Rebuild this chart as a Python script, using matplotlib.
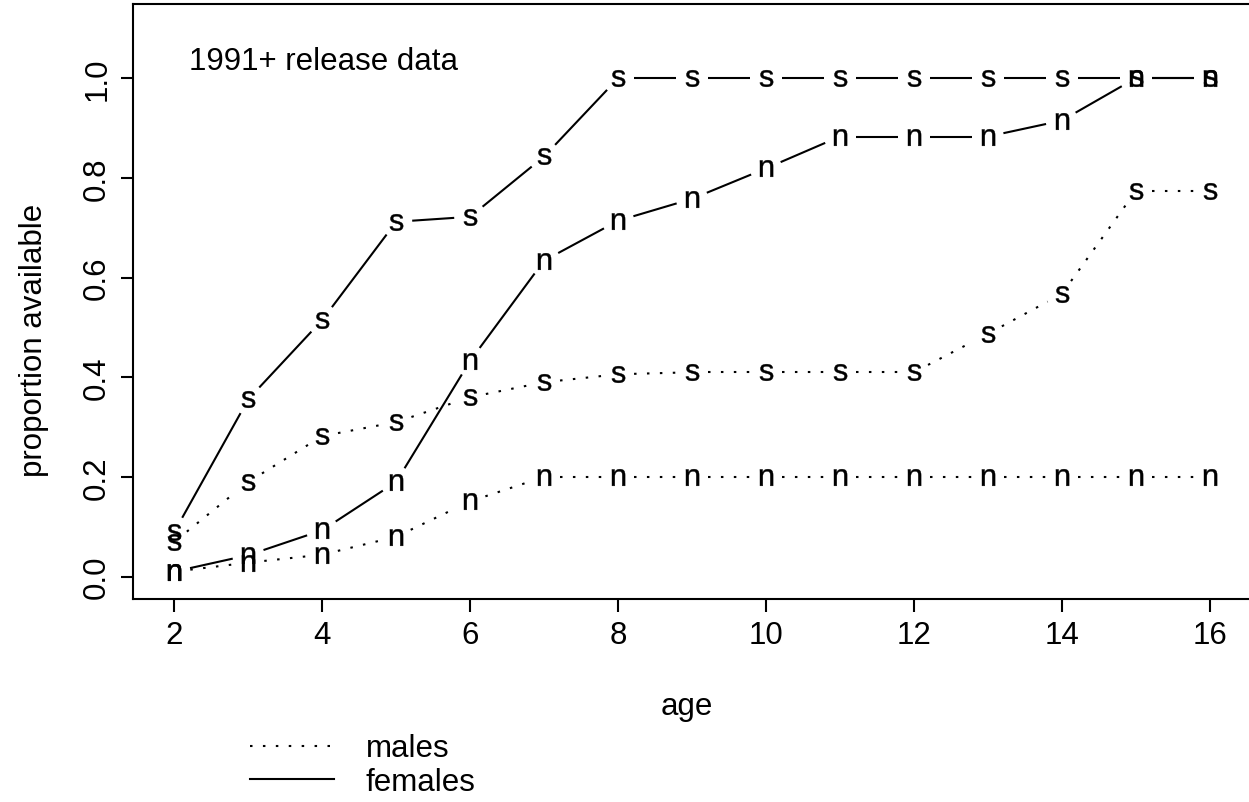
import numpy as np
import matplotlib
matplotlib.use('Agg')
import matplotlib.pyplot as plt
from matplotlib.lines import Line2D

plt.rcParams['font.family'] = ['Liberation Sans', 'DejaVu Sans']
plt.rcParams['mathtext.fontset'] = 'custom'
plt.rcParams['mathtext.rm'] = 'Liberation Sans'

# data
ages = [2, 3, 4, 5, 6, 7, 8, 9, 10, 11, 12, 13, 14, 15, 16]
females_s = [0.09, 0.356, 0.515, 0.712, 0.722, 0.843, 1.0, 1.0, 1.0, 1.0, 1.0, 1.0, 1.0, 1.0, 1.0]
females_n = [0.01, 0.043, 0.093, 0.19, 0.433, 0.634, 0.714, 0.758, 0.819, 0.883, 0.883, 0.883, 0.915, 1.0, 1.0]
males_s = [0.07, 0.19, 0.282, 0.31, 0.36, 0.39, 0.406, 0.41, 0.41, 0.41, 0.41, 0.487, 0.567, 0.773, 0.773]
males_n = [0.01, 0.028, 0.044, 0.08, 0.151, 0.2, 0.2, 0.2, 0.2, 0.2, 0.2, 0.2, 0.2, 0.2, 0.2]

FS = 22.5
DOTTED = (0, (1.2, 5))

fig = plt.figure(figsize=(12.49, 8.03), dpi=100)
ax = fig.add_axes([133 / 1249, 203 / 803, 1118 / 1249, 595 / 803])
ax.set_xlim(1.44, 16.56)
ax.set_ylim(-0.045, 1.149)


def gapped(x, y, ls, gap=16):
    # type="b" style: line segments stopping short of each point
    pts = ax.transData.transform(np.column_stack([x, y]))
    inv = ax.transData.inverted()
    for p0, p1 in zip(pts[:-1], pts[1:]):
        d = p1 - p0
        length = np.hypot(*d)
        if length <= 2 * gap:
            continue
        u = d / length
        a, b = inv.transform([p0 + u * gap, p1 - u * gap])
        ax.plot([a[0], b[0]], [a[1], b[1]], color='black', lw=1.5,
                linestyle=ls, solid_capstyle='butt')


for vals, letter, ls in [(females_s, 's', '-'), (females_n, 'n', '-'),
                         (males_s, 's', DOTTED), (males_n, 'n', DOTTED)]:
    gapped(ages, vals, ls)
    ax.plot(ages, vals, linestyle='none', marker=r'$\mathregular{%s}$' % letter,
            markersize=12, color='black', markeredgewidth=0.3)

ax.text(2.2, 1.035, '1991+ release data', fontsize=FS, va='center', ha='left')

ax.set_xticks([2, 4, 6, 8, 10, 12, 14, 16])
ax.set_yticks([0.0, 0.2, 0.4, 0.6, 0.8, 1.0])
ax.set_yticklabels(['0.0', '0.2', '0.4', '0.6', '0.8', '1.0'], rotation=90, va='center')
ax.tick_params(direction='out', length=9, width=1.5, labelsize=FS)
ax.tick_params(axis='x', pad=6)
ax.tick_params(axis='y', pad=6)
for sp in ax.spines.values():
    sp.set_linewidth(1.5)

ax.set_xlabel('age', fontsize=FS, labelpad=30)
ax.set_ylabel('proportion available', fontsize=FS, labelpad=24)
ax.xaxis.label.set_x(0.495)
ax.yaxis.label.set_y(0.437)

handles = [Line2D([], [], color='black', lw=1.5, linestyle=DOTTED),
           Line2D([], [], color='black', lw=1.5)]
fig.legend(handles, ['males', 'females'], loc='center left',
           bbox_to_anchor=(250 / 1249, 0.046), frameon=False, fontsize=FS,
           handlelength=2.7, handletextpad=1.0, labelspacing=0.1,
           borderpad=0, borderaxespad=0)

fig.savefig('out.png', dpi=100)
